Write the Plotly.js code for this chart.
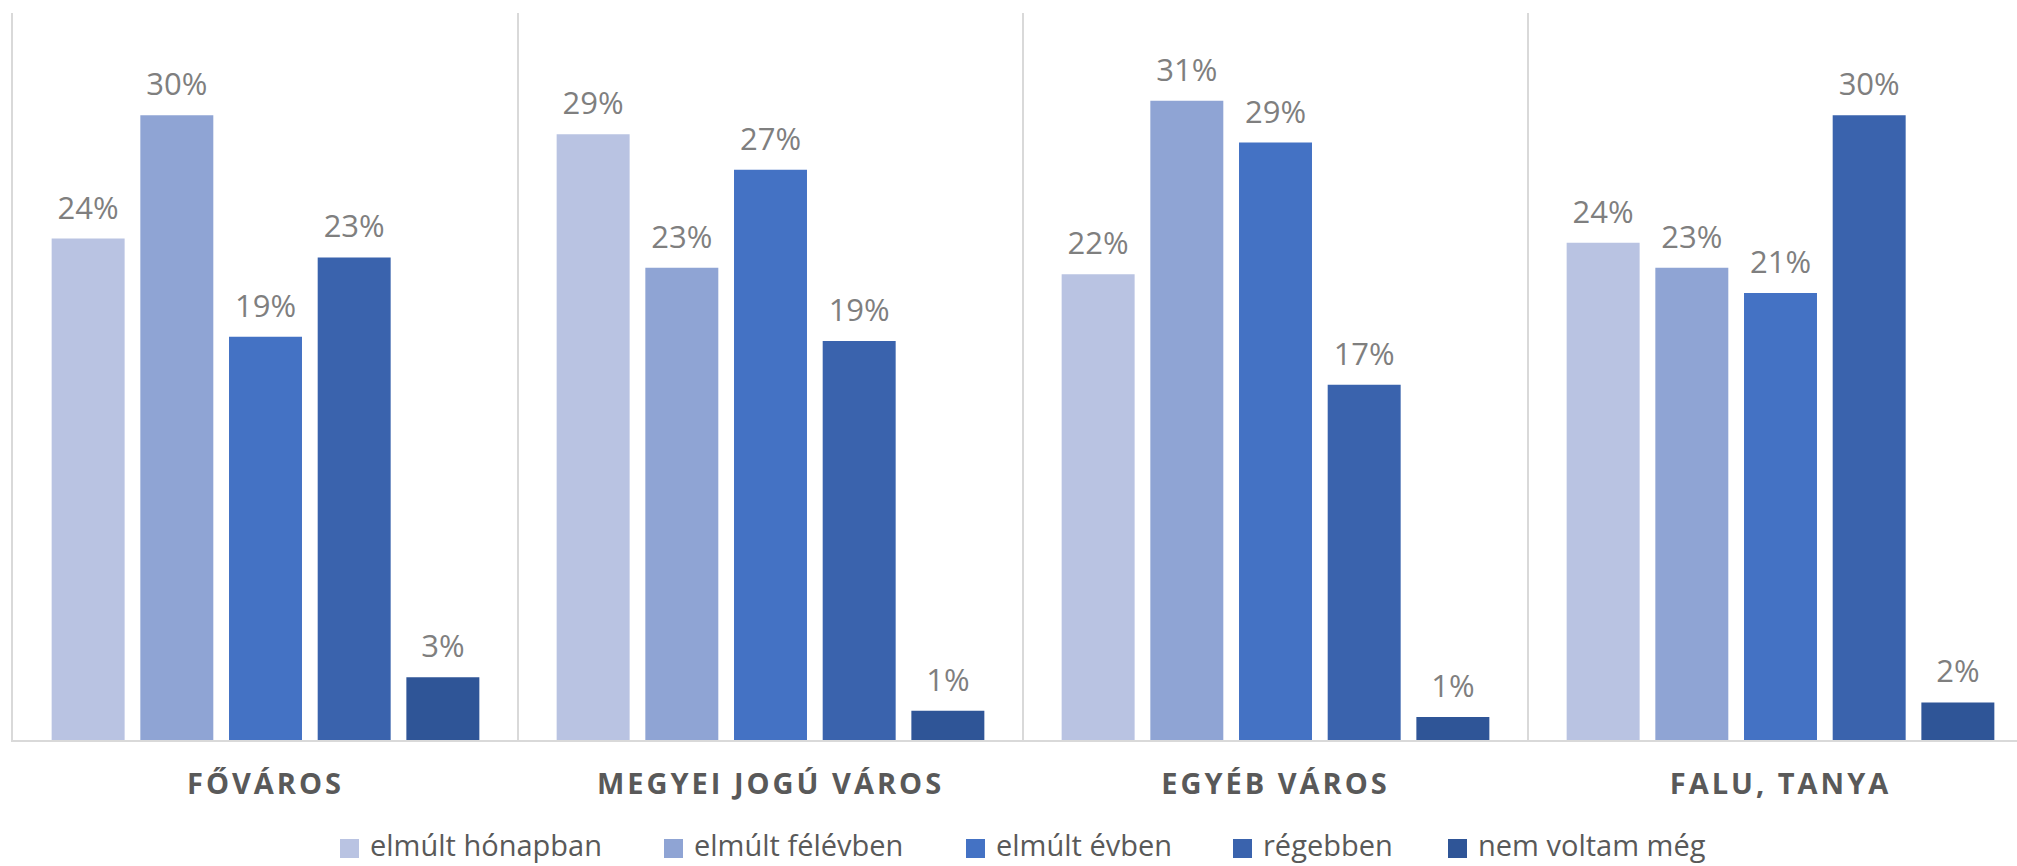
<!DOCTYPE html>
<html><head><meta charset="utf-8">
<script src="https://cdn.plot.ly/plotly-3.0.1.min.js"></script>
<style>
html,body{margin:0;padding:0;background:#fff;}
#chart{width:2017px;height:866px;}
.xtick text{letter-spacing:3px;}
</style></head><body><div id="chart"></div>
<script>
const categories = ['FŐVÁROS', 'MEGYEI JOGÚ VÁROS', 'EGYÉB VÁROS', 'FALU, TANYA'];
const seriesNames = ['elmúlt hónapban', 'elmúlt félévben', 'elmúlt évben', 'régebben', 'nem voltam még'];
const elmultHonapban = [0.240, 0.290, 0.223, 0.238];
const elmultFelevben = [0.299, 0.226, 0.306, 0.226];
const elmultEvben    = [0.193, 0.273, 0.286, 0.214];
const regebben       = [0.231, 0.191, 0.170, 0.299];
const nemVoltamMeg   = [0.030, 0.014, 0.011, 0.018];
const seriesValues = [elmultHonapban, elmultFelevben, elmultEvben, regebben, nemVoltamMeg];

const colors = ['#b9c3e2', '#8fa4d4', '#4472c4', '#3a63ad', '#2f5597'];

const W = 2017, H = 866, ML = 13, MT = 13, MB = 126;
const plotW = W - ML, plotH = H - MT - MB;
const legendLeft = [340, 664, 966, 1233, 1448];
const legendBoxTop = 839, legendBoxSize = 19, legendTextBottom = 865;
const labelLift = 8;
const px2x = p => (p - ML) / plotW;
const px2y = p => (H - MB - p) / plotH;

const traces = seriesNames.map((name, i) => ({
  type: 'bar',
  name: name,
  x: categories,
  y: seriesValues[i],
  marker: {color: colors[i], line: {width: 0}},
  texttemplate: '%{y:.0%}',
  textposition: 'outside',
  constraintext: 'none',
  cliponaxis: false,
  textfont: {family: 'Open Sans, sans-serif', size: 31, color: '#7f7f7f'},
  hoverinfo: 'skip',
  showlegend: false
}));

const shapes = [], annotations = [];
seriesNames.forEach((name, i) => {
  shapes.push({
    type: 'rect', xref: 'paper', yref: 'paper',
    x0: px2x(legendLeft[i]), x1: px2x(legendLeft[i] + legendBoxSize),
    y0: px2y(legendBoxTop + legendBoxSize), y1: px2y(legendBoxTop),
    fillcolor: colors[i], line: {width: 0}
  });
  annotations.push({
    xref: 'paper', yref: 'paper',
    x: px2x(legendLeft[i] + 29), y: px2y(legendTextBottom),
    xanchor: 'left', yanchor: 'bottom', showarrow: false, borderpad: 0,
    text: name,
    font: {family: 'Open Sans, sans-serif', size: 29, color: '#595959'}
  });
});

const layout = {
  width: W, height: H,
  margin: {l: ML, r: 0, t: MT, b: MB, pad: 0},
  paper_bgcolor: '#ffffff', plot_bgcolor: '#ffffff',
  barmode: 'group',
  bargap: 0.122,
  bargroupgap: 0.177,
  showlegend: false,
  xaxis: {
    type: 'category',
    range: [-0.5, -0.5 + plotW / 505],
    tickson: 'boundaries',
    showgrid: true, gridcolor: '#d9d9d9', gridwidth: 2,
    showline: true, linecolor: '#d9d9d9', linewidth: 2,
    zeroline: false, ticks: '',
    ticklabelstandoff: 17,
    tickfont: {family: 'Open Sans, sans-serif', size: 29, color: '#595959', weight: 700},
    fixedrange: true
  },
  yaxis: {
    range: [0, 0.348],
    showgrid: false, zeroline: false,
    showline: true, linecolor: '#d9d9d9', linewidth: 2,
    showticklabels: false, ticks: '',
    fixedrange: true
  },
  shapes: shapes,
  annotations: annotations,
  font: {family: 'Open Sans, sans-serif'}
};

Plotly.newPlot('chart', traces, layout, {displayModeBar: false, staticPlot: true}).then(gd => {
  gd.querySelectorAll('.bartext').forEach(t => {
    const tr = t.getAttribute('transform') || '';
    t.setAttribute('transform', 'translate(0,' + (-labelLift) + ') ' + tr);
  });
});
</script></body></html>
